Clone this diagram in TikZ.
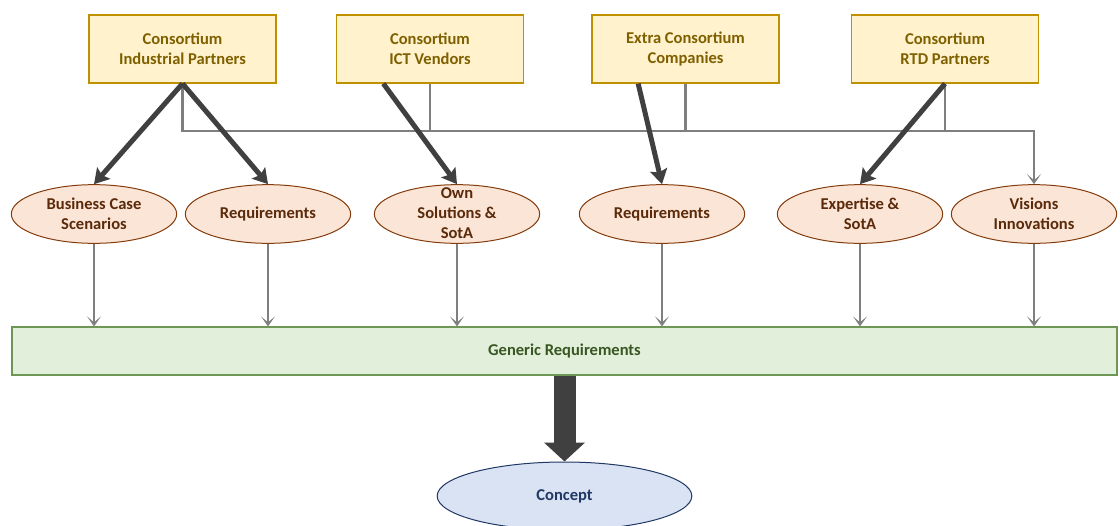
\documentclass[tikz,border=0pt]{standalone}
\usepackage{fontspec}
\setmainfont{Carlito}
\usetikzlibrary{shapes.geometric,arrows.meta}
\definecolor{yfill}{HTML}{FFF2CC}
\definecolor{ydraw}{HTML}{BF9000}
\definecolor{ytext}{HTML}{7F6000}
\definecolor{efill}{HTML}{FBE5D6}
\definecolor{edraw}{HTML}{843C0C}
\definecolor{etext}{HTML}{5A2A0A}
\definecolor{gfill}{HTML}{E2EFDA}
\definecolor{gdraw}{HTML}{6E9655}
\definecolor{gtext}{HTML}{385723}
\definecolor{cfill}{HTML}{DAE3F3}
\definecolor{cdraw}{HTML}{203864}
\definecolor{busgray}{HTML}{7F7F7F}
\definecolor{darkarr}{HTML}{404040}
\tikzset{
  txt/.style={font=\fontsize{12.4}{15}\selectfont\bfseries, align=center, inner sep=0pt},
  ybox/.style={txt, rectangle, fill=yfill, draw=ydraw, line width=0.9pt, text=ytext, minimum width=140.25pt, minimum height=51pt},
  oval/.style={txt, ellipse, fill=efill, draw=edraw, line width=0.75pt, text=etext, minimum width=124pt, minimum height=44pt},
  bus/.style={draw=busgray, line width=1.9pt},
  busarr/.style={bus, -{Stealth[length=7.5pt,width=10.5pt,inset=4.5pt]}},
  thick arr/.style={draw=darkarr, line width=3.75pt, -{Stealth[length=11pt,width=13pt,inset=2pt]}},
}
\begin{document}
\begin{tikzpicture}[x=0.75pt,y=-0.75pt]
\useasboundingbox (0,0) rectangle (1120,525);
% top boxes
\node[ybox] (b1) at (182.5,49) {Consortium\\Industrial Partners};
\node[ybox] (b2) at (430,49) {Consortium\\ICT Vendors};
\node[ybox] (b3) at (685.5,49) {Extra Consortium\\Companies};
\node[ybox] (b4) at (945,49) {Consortium\\RTD Partners};
% ellipses
\node[oval] (e1) at (94,214) {Business Case\\Scenarios};
\node[oval] (e2) at (268,214) {Requirements};
\node[oval] (e3) at (457,214) {};
\node[txt, text=etext] (e3t) at (457,213) {Own\\Solutions \&\\SotA};
\node[oval] (e4) at (662,214) {Requirements};
\node[oval] (e5) at (860,214) {Expertise \&\\SotA};
\node[oval] (e6) at (1034,214) {Visions\\Innovations};
% generic requirements
\node[txt, rectangle, fill=gfill, draw=gdraw, line width=0.9pt, text=gtext, minimum width=828.75pt, minimum height=36pt] (gen) at (564.5,351) {Generic Requirements};
% concept
\node[txt, ellipse, fill=cfill, draw=cdraw, line width=0.75pt, text=cdraw, minimum width=191pt, minimum height=51pt] (concept) at (564.5,496) {Concept};
% bus
\coordinate (bus) at (0,131);
\draw[busarr] (b1.south) -- (b1.south |- bus) -| (e6.north);
\draw[bus] (b2.south) -- (b2.south |- bus);
\draw[bus] (b3.south) -- (b3.south |- bus);
\draw[bus] (b4.south) -- (b4.south |- bus);
% thick dark arrows
\draw[thick arr] (b1.south) -- (e1.north);
\draw[thick arr] (b1.south) -- (e2.north);
\draw[thick arr] ([xshift=-35pt]b2.south) -- (e3.north);
\draw[thick arr] ([xshift=-35.5pt]b3.south) -- (e4.north);
\draw[thick arr] (b4.south) -- (e5.north);
% gray down arrows
\foreach \e in {e1,e2,e3,e4,e5,e6}{
  \draw[busarr] (\e.south) -- (\e.south |- gen.north);
}
% big arrow
\draw[draw=darkarr, line width=16.5pt, -{Triangle[length=14.25pt,width=30pt]}] (gen.south) -- (concept.north);
\end{tikzpicture}
\end{document}
